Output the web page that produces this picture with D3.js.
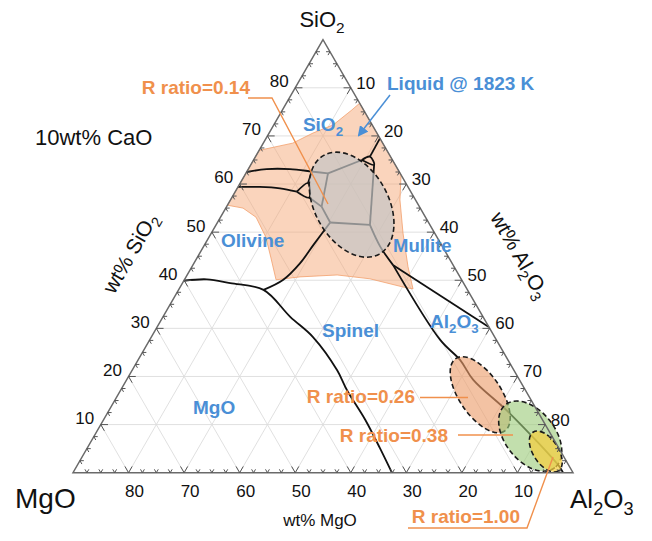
<!DOCTYPE html>
<html>
<head>
<meta charset="utf-8">
<script src="https://cdn.jsdelivr.net/npm/d3@7"></script>
<style>
  body { margin: 0; background: #fff; }
  svg { font-family: Arial, "Liberation Sans", sans-serif; }
</style>
</head>
<body>
<div class="main"></div>
<script>
// 10 wt% CaO fixed, so SiO2 + Al2O3 + MgO = 90 in every point
const total = 90;
const tickLabels = [10, 20, 30, 40, 50, 60, 70, 80];
const gridValues = [10, 20, 30, 40, 50, 60, 70, 80];

// points are [SiO2, Al2O3] in wt%
const liquidRegion = [[67.0,0],[68.5,5.3],[70.6,7.9],[72.3,10.7],[75.4,12.5],[76.8,13.2],
  [61.9,28.1],[56.7,30.5],[49.8,34.5],[42.8,38.9],[38.2,42.1],[38.6,40.1],[40.3,33.3],
  [41.1,27.0],[40.7,20.5],[40.1,16.5],[44.8,13.2],[49.0,10.2],[53.1,6.4],[55.0,3.1],[55.6,0]];

const boundaries = [
  [[62.5,0],[63.1,3.3],[63.1,7.5],[62.6,11.7],[62.2,14.8]],
  [[60.2,12.2],[62.6,11.7]],
  [[59.4,0],[59.4,3.9],[59.1,7.7],[58.4,11.1]],
  [[58.4,11.1],[60.2,12.2],[57.2,13.9],[58.4,11.1]],
  [[57.2,13.9],[55.3,17.1]],
  [[62.2,14.8],[55.3,17.1]],
  [[55.3,17.1],[52.0,20.3]],
  [[52.0,20.3],[47.3,19.6],[43.5,19.1],[40.1,17.8],[38.0,15.3]],
  [[52.0,20.3],[51.5,27.7]],
  [[62.2,14.8],[65.0,19.5]],
  [[65.0,19.5],[65.7,20.6],[64.0,22.2],[65.0,19.5]],
  [[65.7,20.6],[69.5,20.5]],
  [[64.0,22.2],[51.5,27.7]],
  [[51.5,27.7],[47.0,31.8],[43.1,36.1]],
  [[43.1,36.1],[30.3,59.7]],
  [[43.1,36.1],[27.6,52.3],[23.4,58.0],[19.3,62.4],[12.3,72.5],[1.2,87.0],[0,88.2]],
  [[39.9,0],[40.2,4.0],[39.4,8.6],[38.0,15.3],[32.4,22.9],[28.2,29.1],[21.3,36.9],
   [17.2,40.7],[11.0,47.1],[5.1,52.7],[0,57.4]]
];

// R ratio composition ellipses
const ratioNames = ["0.14", "0.26", "0.38", "1.00"];
const ratioCenters = [[55.7,22.3],[16.2,65.2],[7.6,78.5],[4.4,82.9]];
const ratioRadii = [[10.2,6.6],[7.87,3.76],[7.2,4.5],[4.16,2.25]];   // wt%
const ratioAngles = [60.6, 55.9, 52, 56.5];
const ratioFills = ["#c4c4c4", "#ec9c6a", "#9ccc7a", "#f5cf40"];
const ratioAlpha = [0.7, 0.62, 0.62, 0.72];

const w = 652, h = 541;
const blue = "#4a8fd6", orange = "#f0904c";

const svg = d3.select(".main").append("svg").attr("width", w).attr("height", h);

const xScale = d3.scaleLinear().domain([0, total]).range([73, 573]);
const yScale = d3.scaleLinear().domain([0, total]).range([472.7, 39.7]);
const px = (d) => [xScale(d[1] + d[0] / 2), yScale(d[0])];
const unit = xScale(1) - xScale(0);

// grid
gridValues.forEach((k) => {
  [[[k,0],[k,total-k]], [[0,k],[total-k,k]], [[0,total-k],[total-k,0]]].forEach((seg) => {
    const a = px(seg[0]), b = px(seg[1]);
    svg.append("line").attr("x1", a[0]).attr("y1", a[1]).attr("x2", b[0]).attr("y2", b[1])
      .attr("stroke", "#dcdcdc").attr("stroke-width", 0.9);
  });
});

// liquid region
svg.append("path")
  .attr("d", d3.line().x((d) => px(d)[0]).y((d) => px(d)[1])(liquidRegion) + "Z")
  .attr("fill", "#f4a572").attr("fill-opacity", 0.48)
  .attr("stroke", "#f2a06c").attr("stroke-width", 0.8);

// phase boundaries
const curve = d3.line().x((d) => px(d)[0]).y((d) => px(d)[1]).curve(d3.curveCatmullRom.alpha(0.5));
boundaries.forEach((b) => {
  svg.append("path").attr("d", curve(b))
    .attr("fill", "none").attr("stroke", "#111").attr("stroke-width", 1.8);
});

// ellipses
ratioNames.forEach((n, i) => {
  const c = px(ratioCenters[i]);
  svg.append("ellipse")
    .attr("transform", "translate(" + c[0] + "," + c[1] + ") rotate(" + ratioAngles[i] + ")")
    .attr("rx", ratioRadii[i][0] * unit).attr("ry", ratioRadii[i][1] * unit)
    .attr("fill", ratioFills[i]).attr("fill-opacity", ratioAlpha[i])
    .attr("stroke", "#1a1a1a").attr("stroke-width", 1.6).attr("stroke-dasharray", "5,3");
});

// triangle
const corners = [px([total,0]), px([0,0]), px([0,total])];
svg.append("path").attr("d", "M" + corners.join("L") + "Z")
  .attr("fill", "none").attr("stroke", "#6a6a6a").attr("stroke-width", 1.5);

// ticks every 2.5 wt%, two arms into the triangle
function arm(p, q) {
  const a = px(p), b = px(q);
  svg.append("line").attr("x1", a[0]).attr("y1", a[1]).attr("x2", b[0]).attr("y2", b[1])
    .attr("stroke", "#555").attr("stroke-width", 1);
}
for (let v = 2.5; v < total; v += 2.5) {
  const L = v % 10 == 0 ? 1.3 : 0.7;
  // MgO along base
  arm([0, total - v], [L, total - v - L]);
  arm([0, total - v], [L, total - v]);
  // SiO2 along left edge
  arm([v, 0], [v, L]);
  arm([v, 0], [v - L, L]);
  // Al2O3 along right edge
  arm([total - v, v], [total - v - L, v]);
  arm([total - v, v], [total - v, v - L]);
}

// tick labels
tickLabels.forEach((v) => {
  const b = px([0, total - v]);
  svg.append("text").attr("x", b[0] + 6).attr("y", b[1] + 24)
    .attr("text-anchor", "middle").attr("font-size", "17px").attr("fill", "#111").text(v);
  const l = px([v, 0]);
  svg.append("text").attr("x", l[0] - 16).attr("y", l[1] - 6.5).attr("dy", "0.35em")
    .attr("text-anchor", "middle").attr("font-size", "17px").attr("fill", "#111").text(v);
  const r = px([total - v, v]);
  svg.append("text").attr("x", r[0] + 15).attr("y", r[1] - 5).attr("dy", "0.35em")
    .attr("text-anchor", "middle").attr("font-size", "17px").attr("fill", "#111").text(v);
});

// text with _n subscripts
function label(x, y, str, size, color, anchor, weight, rot) {
  const t = svg.append("text")
    .attr("font-size", size + "px").attr("fill", color)
    .attr("text-anchor", anchor).attr("font-weight", weight);
  if (rot) t.attr("transform", "translate(" + x + "," + y + ") rotate(" + rot + ")").attr("dy", "0.35em");
  else t.attr("x", x).attr("y", y);
  let down = false;
  str.split(/(_\d)/).forEach((p) => {
    if (p == "") return;
    if (p[0] == "_") {
      t.append("tspan").attr("font-size", (size * 0.7) + "px").attr("dy", size * 0.25).text(p[1]);
      down = true;
    } else {
      const s = t.append("tspan").text(p);
      if (down) s.attr("dy", -size * 0.25);
      down = false;
    }
  });
  return t;
}

label(322, 27, "SiO_2", 22, "#111", "middle", "normal");
label(35, 145, "10wt% CaO", 22, "#111", "start", "normal");
label(15, 508, "MgO", 28, "#111", "start", "normal");
label(570, 508, "Al_2O_3", 26, "#111", "start", "normal");
label(320, 526, "wt% MgO", 17, "#111", "middle", "normal");
label(130, 253, "wt% SiO_2", 21, "#111", "middle", "normal", -60);
label(520, 255, "wt% Al_2O_3", 21, "#111", "middle", "normal", 60);

label(323, 131, "SiO_2", 19, blue, "middle", "bold");
label(387, 90, "Liquid @ 1823 K", 19, blue, "start", "bold");
label(221, 247, "Olivine", 19, blue, "start", "bold");
label(393, 252, "Mullite", 18.5, blue, "start", "bold");
label(322, 337, "Spinel", 19, blue, "start", "bold");
label(430, 328, "Al_2O_3", 19, blue, "start", "bold");
label(193, 414, "MgO", 19, blue, "start", "bold");

// R ratio labels and leaders
const leaders = [
  [[248,98],[272,98],[328,204]],
  [[420,397.5],[468,397.5]],
  [[458,435],[513,435]],
  [[408,528],[527,528],[553,457]]
];
const labelPos = [[250,94],[415,403],[448,442],[520,523]];
ratioNames.forEach((n, i) => {
  svg.append("path").attr("d", d3.line()(leaders[i]))
    .attr("fill", "none").attr("stroke", orange).attr("stroke-width", 1.4);
  label(labelPos[i][0], labelPos[i][1], "R ratio=" + n, 19, orange, "end", "bold");
});

// arrow to the liquid region
svg.append("defs").append("marker")
  .attr("id", "arr").attr("viewBox", "0 0 10 10").attr("refX", 8).attr("refY", 5)
  .attr("markerWidth", 7).attr("markerHeight", 7).attr("orient", "auto")
  .append("path").attr("d", "M0,0L10,5L0,10Z").attr("fill", blue);
svg.append("line").attr("x1", 390).attr("y1", 95).attr("x2", 359).attr("y2", 135)
  .attr("stroke", blue).attr("stroke-width", 1.5).attr("marker-end", "url(#arr)");
</script>
</body>
</html>
